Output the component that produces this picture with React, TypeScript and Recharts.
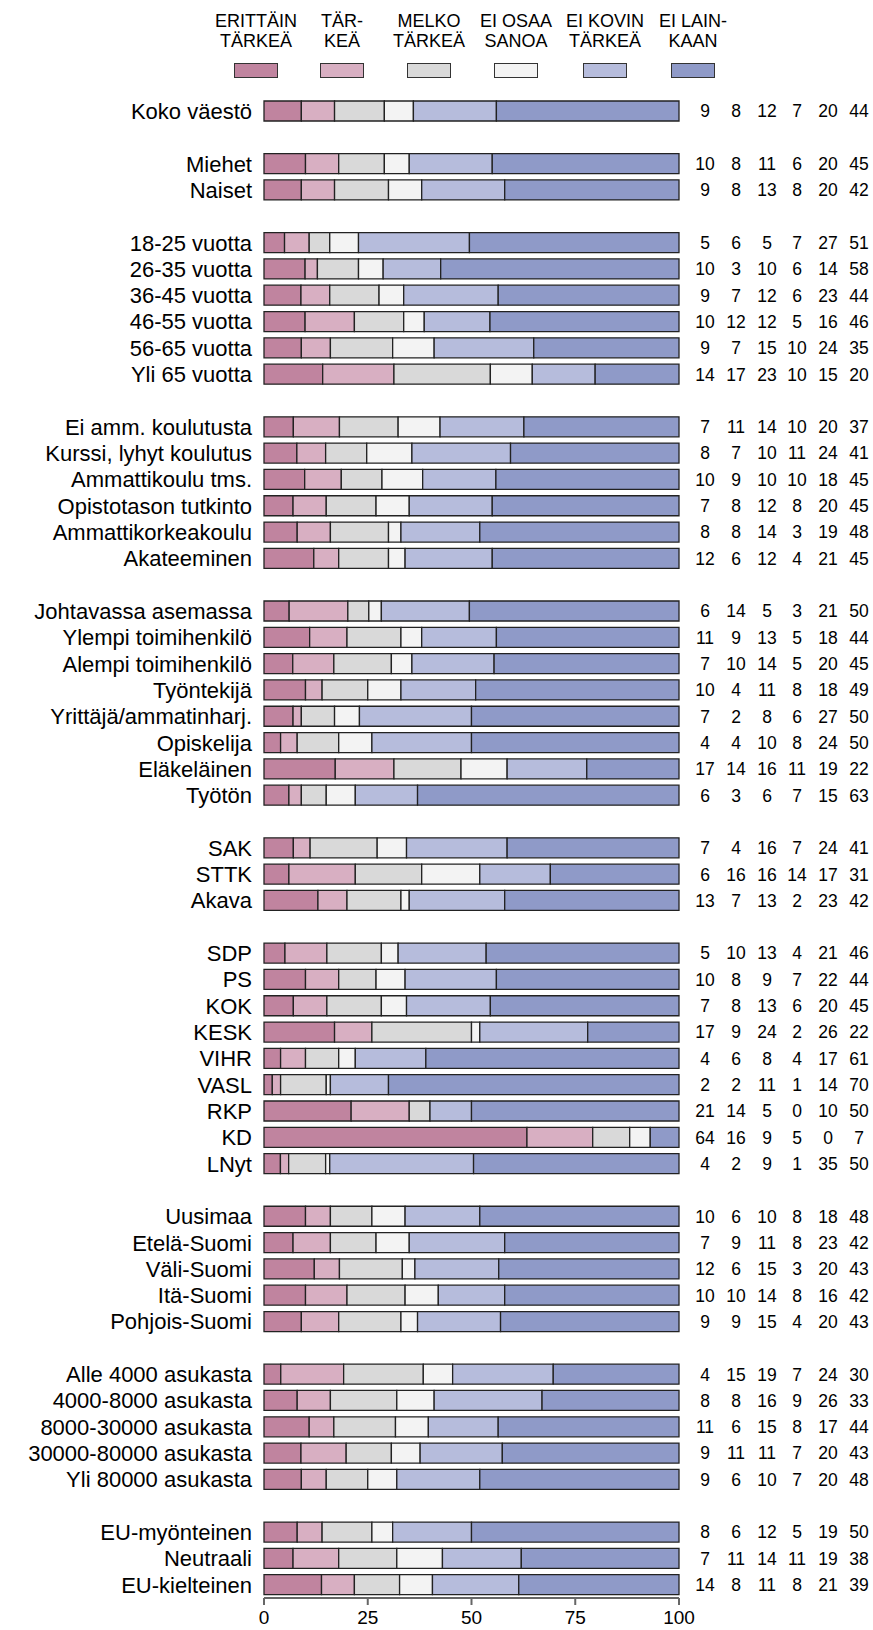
import { Bar, BarChart, XAxis, YAxis } from "recharts";

const categories = [
  "Koko väestö",
  "Miehet", "Naiset",
  "18-25 vuotta", "26-35 vuotta", "36-45 vuotta", "46-55 vuotta", "56-65 vuotta", "Yli 65 vuotta",
  "Ei amm. koulutusta", "Kurssi, lyhyt koulutus", "Ammattikoulu tms.", "Opistotason tutkinto", "Ammattikorkeakoulu", "Akateeminen",
  "Johtavassa asemassa", "Ylempi toimihenkilö", "Alempi toimihenkilö", "Työntekijä", "Yrittäjä/ammatinharj.", "Opiskelija", "Eläkeläinen", "Työtön",
  "SAK", "STTK", "Akava",
  "SDP", "PS", "KOK", "KESK", "VIHR", "VASL", "RKP", "KD", "LNyt",
  "Uusimaa", "Etelä-Suomi", "Väli-Suomi", "Itä-Suomi", "Pohjois-Suomi",
  "Alle 4000 asukasta", "4000-8000 asukasta", "8000-30000 asukasta", "30000-80000 asukasta", "Yli 80000 asukasta",
  "EU-myönteinen", "Neutraali", "EU-kielteinen",
];
const groupSizes = [1, 2, 6, 6, 8, 3, 9, 5, 5, 3];

const erittain = [9, 10, 9, 5, 10, 9, 10, 9, 14, 7, 8, 10, 7, 8, 12, 6, 11, 7, 10, 7, 4, 17, 6, 7, 6, 13, 5, 10, 7, 17, 4, 2, 21, 64, 4, 10, 7, 12, 10, 9, 4, 8, 11, 9, 9, 8, 7, 14];
const tarkea = [8, 8, 8, 6, 3, 7, 12, 7, 17, 11, 7, 9, 8, 8, 6, 14, 9, 10, 4, 2, 4, 14, 3, 4, 16, 7, 10, 8, 8, 9, 6, 2, 14, 16, 2, 6, 9, 6, 10, 9, 15, 8, 6, 11, 6, 6, 11, 8];
const melko = [12, 11, 13, 5, 10, 12, 12, 15, 23, 14, 10, 10, 12, 14, 12, 5, 13, 14, 11, 8, 10, 16, 6, 16, 16, 13, 13, 9, 13, 24, 8, 11, 5, 9, 9, 10, 11, 15, 14, 15, 19, 16, 15, 11, 10, 12, 14, 11];
const eiOsaa = [7, 6, 8, 7, 6, 6, 5, 10, 10, 10, 11, 10, 8, 3, 4, 3, 5, 5, 8, 6, 8, 11, 7, 7, 14, 2, 4, 7, 6, 2, 4, 1, 0, 5, 1, 8, 8, 3, 8, 4, 7, 9, 8, 7, 7, 5, 11, 8];
const eiKovin = [20, 20, 20, 27, 14, 23, 16, 24, 15, 20, 24, 18, 20, 19, 21, 21, 18, 20, 18, 27, 24, 19, 15, 24, 17, 23, 21, 22, 20, 26, 17, 14, 10, 0, 35, 18, 23, 20, 16, 20, 24, 26, 17, 20, 20, 19, 19, 21];
const eiLainkaan = [44, 45, 42, 51, 58, 44, 46, 35, 20, 37, 41, 45, 45, 48, 45, 50, 44, 45, 49, 50, 50, 22, 63, 41, 31, 42, 46, 44, 45, 22, 61, 70, 50, 7, 50, 48, 42, 43, 42, 43, 30, 33, 44, 43, 48, 50, 38, 39];

const seriesKeys = ["erittain", "tarkea", "melko", "eiOsaa", "eiKovin", "eiLainkaan"];
const seriesValues = [erittain, tarkea, melko, eiOsaa, eiKovin, eiLainkaan];
const legendLabels = [["ERITTÄIN", "TÄRKEÄ"], ["TÄR-", "KEÄ"], ["MELKO", "TÄRKEÄ"], ["EI OSAA", "SANOA"], ["EI KOVIN", "TÄRKEÄ"], ["EI LAIN-", "KAAN"]];
const colors = ["#c0849f", "#d8afc2", "#d9d9d9", "#f3f3f3", "#b6bcdc", "#8f9ac8"];
const xTicks = [0, 0.25, 0.5, 0.75, 1];

const legendCenters = [256, 342, 429, 516, 605, 693];
const numberOffsets = [26, 57, 88, 118, 149, 180];
const font = "'Liberation Sans', Arial, sans-serif";

type Row = { key: string; label: string; gap: boolean; [k: string]: string | number | boolean };

// spacer rows between groups keep the gaps on the category axis
const rows: Row[] = [];
let idx = 0;
groupSizes.forEach((size, g) => {
  if (g > 0) {
    const gap: Row = { key: `gap${g}`, label: "", gap: true };
    seriesKeys.forEach((s) => (gap[s] = 0));
    rows.push(gap);
  }
  for (let k = 0; k < size; k++, idx++) {
    const row: Row = { key: `r${idx}`, label: categories[idx], gap: false };
    seriesKeys.forEach((s, j) => (row[s] = seriesValues[j][idx]));
    rows.push(row);
  }
});
const rowByKey: Record<string, Row> = Object.fromEntries(rows.map((r) => [r.key, r]));

function NumberTick(props: any) {
  const { x, y, payload } = props;
  const row = rowByKey[payload.value];
  if (!row || row.gap) return <g />;
  return (
    <g>
      {seriesKeys.map((s, j) => (
        <text key={s} x={x + numberOffsets[j]} y={y} dy="0.355em" textAnchor="middle" fontSize={17.5} fontFamily={font} fill="#000">
          {String(row[s])}
        </text>
      ))}
    </g>
  );
}

export default function App() {
  return (
    <div style={{ position: "absolute", left: 0, top: 0, width: 873, height: 1630, background: "#fff", fontFamily: font }}>
      {legendLabels.map((lines, i) => (
        <div key={i}>
          <div style={{ position: "absolute", left: legendCenters[i] - 50, top: 11, width: 100, textAlign: "center", fontSize: 18, lineHeight: "20px", color: "#000" }}>
            {lines[0]}
            <br />
            {lines[1]}
          </div>
          <div style={{ position: "absolute", left: legendCenters[i] - 22, top: 63, width: 42, height: 13, background: colors[i], border: "1px solid #333" }} />
        </div>
      ))}
      <BarChart width={873} height={1630} data={rows} layout="vertical" stackOffset="expand" barSize={20} margin={{ top: 98, right: 0, bottom: 0, left: 0 }}>
        <XAxis type="number" domain={[0, 1]} ticks={xTicks} tickFormatter={(v: number) => String(Math.round(v * 100))} height={32} tickSize={7} tickMargin={6}
          axisLine={{ stroke: "#666", strokeWidth: 2 }} tickLine={{ stroke: "#666", strokeWidth: 2 }} tick={{ fontSize: 19, fill: "#000", fontFamily: font }} />
        <YAxis type="category" dataKey="key" width={264} interval={0} axisLine={false} tickLine={false} tickSize={0} tickMargin={12}
          tickFormatter={(v: string) => rowByKey[v]?.label ?? ""} tick={{ fontSize: 22, fill: "#000", fontFamily: font }} />
        <YAxis yAxisId="nums" orientation="right" type="category" dataKey="key" width={194} interval={0} axisLine={false} tickLine={false} tickSize={0} tickMargin={0} tick={NumberTick} />
        {seriesKeys.map((s, j) => (
          <Bar key={s} dataKey={s} stackId="a" fill={colors[j]} stroke="#222" strokeWidth={1.3} isAnimationActive={false} />
        ))}
      </BarChart>
    </div>
  );
}
